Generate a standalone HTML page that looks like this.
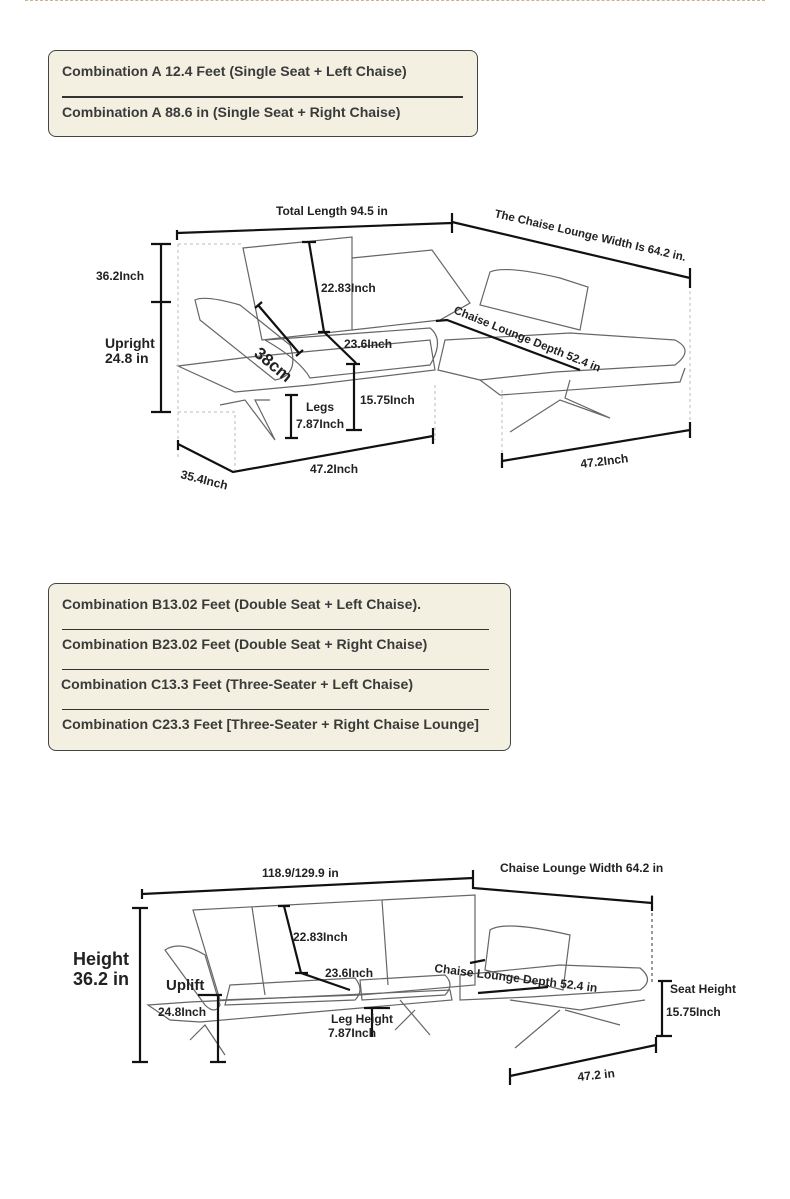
<!DOCTYPE html>
<html><head><meta charset="utf-8"><style>
body{margin:0;width:790px;height:1199px;background:#fff;position:relative;overflow:hidden;font-family:"Liberation Sans",sans-serif}
.top{position:absolute;left:25px;right:25px;top:0;border-top:1px dashed #c9b48a}
.box{position:absolute;background:#f3f0e2;border:1px solid #444;border-radius:8px;color:#3a3a3a;font-size:14.1px;font-weight:bold}
.box div{position:absolute;white-space:nowrap}
.hr{position:absolute;height:0;border-top:1.5px solid #333}
svg{position:absolute;left:0;top:0}
svg text{font-family:"Liberation Sans",sans-serif;font-weight:bold;fill:#222}
</style></head><body>
<div class="top"></div>
<div class="box" style="left:48px;top:50px;width:428px;height:85px">
<div style="left:13px;top:12px">Combination A 12.4 Feet (Single Seat + Left Chaise)</div>
<div class="hr" style="left:13px;top:45px;width:401px;border-top-width:2px"></div>
<div style="left:13px;top:53px">Combination A 88.6 in (Single Seat + Right Chaise)</div>
</div>
<div class="box" style="left:48px;top:583px;width:461px;height:166px">
<div style="left:13px;top:12px">Combination B13.02 Feet (Double Seat + Left Chaise).</div>
<div class="hr" style="left:13px;top:45px;width:427px;border-top-width:1px"></div>
<div style="left:13px;top:52px">Combination B23.02 Feet (Double Seat + Right Chaise)</div>
<div class="hr" style="left:13px;top:85px;width:427px;border-top-width:1px"></div>
<div style="left:12px;top:92px">Combination C13.3 Feet (Three-Seater + Left Chaise)</div>
<div class="hr" style="left:13px;top:125px;width:427px;border-top-width:1px"></div>
<div style="left:13px;top:132px">Combination C23.3 Feet [Three-Seater + Right Chaise Lounge]</div>
</div>
<svg width="790" height="1199" viewBox="0 0 790 1199">
<g fill="none" stroke="#666" stroke-width="1.2">
<path d="M243 248 L352 237 L352 330 L262 340 Z"/>
<path d="M352 258 L432 250 L470 303 L440 320 L352 330"/>
<path d="M195 300 Q205 295 240 305 L290 345 Q300 375 275 380 L200 320 Z"/>
<path d="M178 366 L250 357 L430 340 L435 370 L310 385 L235 392 Z"/>
<path d="M265 340 L430 328 Q445 340 430 365 L310 378 Q300 360 265 340"/>
<path d="M490 272 Q505 265 560 278 L588 287 L580 330 L480 305 Z"/>
<path d="M445 340 L570 333 L675 340 Q695 350 675 365 L555 372 L480 380 L438 370 Z"/>
<path d="M480 380 L500 395 L680 382 L685 368"/>
<path d="M220 405 L245 400 L275 440 L255 400 L270 400"/>
<path d="M510 432 L560 400 L610 418 L565 398 L570 380"/>
</g>
<g fill="none" stroke="#bbb" stroke-width="1" stroke-dasharray="3,3">
<path d="M178 244 L243 244 M178 244 L178 460 M178 412 L235 412 L235 470 M435 385 L435 440 M502 390 L502 460 M690 285 L690 425"/>
</g>
<g stroke="#111" stroke-width="2.2" fill="none">
<path d="M177 230 L177 240 M177 233 L452 223 M452 213 L452 233"/>
<path d="M452 222 L690 278 M690 268 L690 288"/>
<path d="M151 244 L171 244 M161 244 L161 412 M151 302 L171 302 M151 412 L171 412"/>
<path d="M302 242 L316 242 M309 242 L324 332 L356 363 M318 332 L330 332 M346 364 L360 364 M354 364 L354 430 M346 430 L362 430"/>
<path d="M258 305 L299 353 M255 308 L262 302 M296 356 L303 350"/>
<path d="M285 395 L298 395 M291 395 L291 438 M285 438 L298 438"/>
<path d="M178 440 L178 450 M178 444 L233 472 L433 436 M433 428 L433 444"/>
<path d="M502 453 L502 468 M502 461 L690 430 M690 422 L690 438"/>
<path d="M436 321 L447 320 L580 370"/>
</g>
<text x="276" y="215" font-size="12">Total Length 94.5 in</text>
<text x="494" y="217" font-size="11.5" transform="rotate(13 494 217)">The Chaise Lounge Width Is 64.2 in.</text>
<text x="96" y="280" font-size="12">36.2Inch</text>
<text x="105" y="348" font-size="14">Upright</text>
<text x="105" y="363" font-size="14">24.8 in</text>
<text x="321" y="292" font-size="12">22.83Inch</text>
<text x="344" y="348" font-size="12">23.6Inch</text>
<text x="453" y="313" font-size="11.5" transform="rotate(22 453 313)">Chaise Lounge Depth 52.4 in</text>
<text x="253" y="355" font-size="17" font-weight="normal" transform="rotate(40 253 355)">38cm</text>
<text x="306" y="411" font-size="12" font-weight="normal">Legs</text>
<text x="296" y="428" font-size="12">7.87Inch</text>
<text x="360" y="404" font-size="12">15.75Inch</text>
<text x="310" y="473" font-size="12">47.2Inch</text>
<text x="180" y="478" font-size="12" transform="rotate(14 180 478)">35.4Inch</text>
<text x="581" y="468" font-size="12" transform="rotate(-7 581 468)">47.2Inch</text>

<g fill="none" stroke="#666" stroke-width="1.2">
<path d="M193 910 L475 895 L475 985 L360 995 L220 1000 Z"/>
<path d="M252 907 L265 995 M382 900 L388 985"/>
<path d="M165 950 Q180 940 205 955 L220 1005 Q215 1015 205 1005 Z"/>
<path d="M148 1005 L190 1002 L450 990 L452 1000 L200 1022 L170 1020 Z"/>
<path d="M230 985 L355 978 Q365 990 355 1000 L225 1005 Z"/>
<path d="M360 980 L445 975 Q455 985 445 995 L362 1000 Z"/>
<path d="M490 930 Q505 920 570 935 L563 990 L485 970 Z"/>
<path d="M460 975 L560 965 L640 968 Q655 980 640 990 L530 997 L460 1000 Z"/>
<path d="M510 1000 L580 1010 L645 1000"/>
<path d="M190 1040 L205 1025 L225 1055 M400 1000 L430 1035 M415 1010 L395 1030 M560 1010 L515 1048 M565 1010 L620 1025"/>
</g>
<path d="M652 895 L652 985" stroke="#333" stroke-dasharray="3,3" fill="none"/>
<g stroke="#111" stroke-width="2.2" fill="none">
<path d="M142 889 L142 899 M142 894 L473 878 M473 870 L473 888 L652 903 M652 896 L652 911"/>
<path d="M132 908 L148 908 M140 908 L140 1062 M132 1062 L148 1062"/>
<path d="M198 995 L222 995 M218 995 L218 1062 M210 1062 L226 1062"/>
<path d="M278 906 L290 906 M284 906 L301 973 L350 990 M295 973 L308 973"/>
<path d="M658 981 L672 981 M662 981 L662 1036 M656 1036 L672 1036"/>
<path d="M510 1068 L510 1085 M510 1076 L656 1045 M656 1037 L656 1053"/>
<path d="M372 1008 L372 1037 M364 1008 L390 1008"/>
<path d="M478 993 L548 987 M470 963 L485 960"/>
</g>
<text x="262" y="877" font-size="12" font-weight="normal">118.9/129.9 in</text>
<text x="500" y="872" font-size="12">Chaise Lounge Width 64.2 in</text>
<text x="73" y="965" font-size="18">Height</text>
<text x="73" y="985" font-size="18">36.2 in</text>
<text x="166" y="990" font-size="15" font-weight="normal">Uplift</text>
<text x="158" y="1016" font-size="12">24.8Inch</text>
<text x="293" y="941" font-size="12">22.83Inch</text>
<text x="325" y="977" font-size="12">23.6Inch</text>
<text x="434" y="972" font-size="12" transform="rotate(7 434 972)">Chaise Lounge Depth 52.4 in</text>
<text x="331" y="1023" font-size="12" font-weight="normal" fill="#444">Leg Height</text>
<text x="328" y="1037" font-size="12">7.87Inch</text>
<text x="670" y="993" font-size="12" font-weight="normal">Seat Height</text>
<text x="666" y="1016" font-size="12">15.75Inch</text>
<text x="578" y="1081" font-size="12" transform="rotate(-6 578 1081)">47.2 in</text>
</svg>
</body></html>
